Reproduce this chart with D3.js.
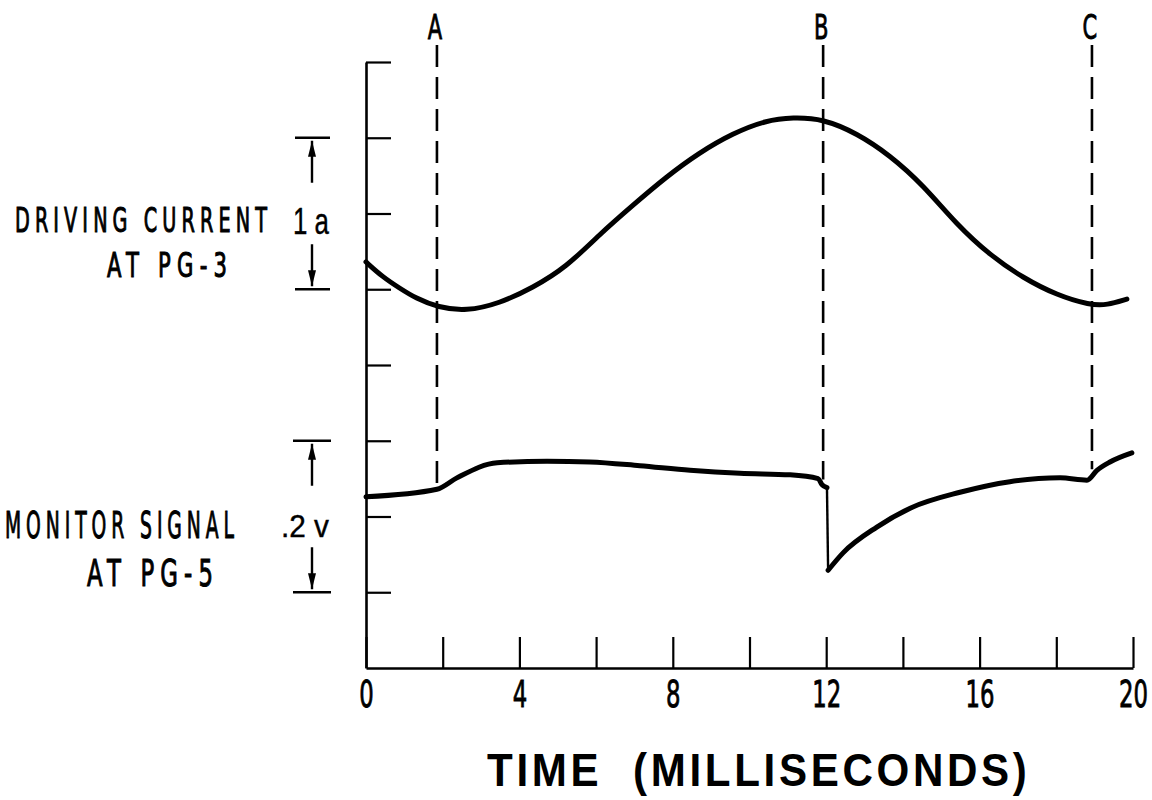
<!DOCTYPE html>
<html>
<head>
<meta charset="utf-8">
<script src="https://cdn.jsdelivr.net/npm/d3@7/dist/d3.min.js"></script>
<style>
  html, body { margin: 0; padding: 0; background: #fff; }
  svg { display: block; }
</style>
</head>
<body>
<svg id="chart" width="1152" height="800"></svg>
<script>
// Oscillogram: driving current and monitor signal vs. time.
// Vertical values are in graticule divisions (0 = bottom edge, 8 = top).

const xTicks = [0, 2, 4, 6, 8, 10, 12, 14, 16, 18, 20];
const xTickLabels = ["0", "", "4", "", "8", "", "12", "", "16", "", "20"];
const yTicks = [1, 2, 3, 4, 5, 6, 7, 8];

// Driving current at PG-3 (time ms, divisions)
const currentTime = [0, 0.44, 0.86, 1.30, 1.88, 2.61, 3.47, 4.35, 5.22, 6.08, 6.96, 7.82, 8.68, 9.57, 10.43, 11.13, 11.92, 12.80, 13.66, 14.52, 15.41, 16.27, 17.13, 18.02, 18.88, 19.32, 19.84];
const currentDiv  = [5.36, 5.16, 5.02, 4.88, 4.76, 4.71, 4.81, 5.02, 5.29, 5.72, 6.11, 6.48, 6.80, 7.06, 7.23, 7.27, 7.25, 7.06, 6.77, 6.38, 5.85, 5.45, 5.15, 4.92, 4.79, 4.79, 4.87];

// Monitor signal at PG-5 (time ms, divisions); the fast drop sits between 12.02 and 12.05 ms
const monitorTime = [0, 1.85, 2.37, 3.42, 4.72, 5.84, 7.14, 8.45, 9.75, 11.06, 11.79, 11.89, 12.02, 12.05, 12.44, 13.32, 14.19, 15.49, 16.79, 18.10, 18.80, 19.06, 19.40, 19.97];
const monitorDiv  = [2.26, 2.36, 2.51, 2.71, 2.73, 2.72, 2.67, 2.61, 2.57, 2.55, 2.50, 2.42, 2.38, 1.29, 1.52, 1.86, 2.11, 2.32, 2.46, 2.51, 2.48, 2.61, 2.72, 2.84];
const dropIndex = 12;

// Event markers
const markerLabels = ["A", "B", "C"];
const markerTimes = [1.85, 11.92, 18.93];

const LETTER = "'DejaVu Sans', 'Liberation Sans', sans-serif";
const WIDE = "'Liberation Sans', 'DejaVu Sans', sans-serif";

const svg = d3.select("#chart");
const x = d3.scaleLinear().domain([0, 20]).range([366, 1133]);
const y = d3.scaleLinear().domain([0, 8]).range([668, 62]);

// Axes
const xAxis = d3.axisBottom(x)
  .tickValues(xTicks)
  .tickSize(-31)
  .tickSizeOuter(0)
  .tickPadding(12)
  .tickFormat((d, i) => xTickLabels[i]);

const gx = svg.append("g").attr("transform", `translate(0,${y(0)})`).call(xAxis);
gx.select(".domain").attr("stroke", "#000").attr("stroke-width", 2.6);
gx.selectAll(".tick line").attr("stroke", "#000").attr("stroke-width", 2.2);
gx.selectAll(".tick text")
  .attr("fill", "#000")
  .attr("stroke", "#000")
  .attr("stroke-width", 0.9)
  .attr("transform", "scale(0.6,1)")
  .style("font-family", LETTER)
  .style("font-size", "38px");

const yAxis = d3.axisRight(y)
  .tickValues(yTicks)
  .tickSize(25)
  .tickSizeOuter(0)
  .tickFormat("");
const gy = svg.append("g").attr("transform", `translate(${x(0)},0)`).call(yAxis);
gy.select(".domain").attr("stroke", "#000").attr("stroke-width", 2.6);
gy.selectAll(".tick line").attr("stroke", "#000").attr("stroke-width", 2.2);

// Interpolated monitor value at a given time
function monitorAt(t) {
  const i = Math.max(1, Math.min(monitorTime.length - 1, d3.bisectRight(monitorTime, t)));
  const t0 = monitorTime[i - 1], t1 = monitorTime[i];
  const f = (t - t0) / (t1 - t0);
  return monitorDiv[i - 1] + f * (monitorDiv[i] - monitorDiv[i - 1]);
}

// Dashed event markers
markerTimes.forEach((t, i) => {
  svg.append("line")
    .attr("x1", x(t)).attr("x2", x(t))
    .attr("y1", 45).attr("y2", y(monitorAt(t)) - 6)
    .attr("stroke", "#000")
    .attr("stroke-width", 2.6)
    .attr("stroke-dasharray", "22,10");
  svg.append("text")
    .attr("transform", `translate(${x(t) - 2},39) scale(0.62,1)`)
    .attr("text-anchor", "middle")
    .attr("stroke", "#000")
    .attr("stroke-width", 0.9)
    .style("font-family", LETTER)
    .style("font-size", "34px")
    .text(markerLabels[i]);
});

// Traces
const smooth = d3.line().curve(d3.curveBasis);
const mono = d3.line().curve(d3.curveMonotoneX);
const currentPts = currentTime.map((t, i) => [x(t), y(currentDiv[i])]);
const monitorPts = monitorTime.map((t, i) => [x(t), y(monitorDiv[i])]);

svg.append("path")
  .attr("d", smooth(currentPts))
  .attr("fill", "none").attr("stroke", "#000").attr("stroke-width", 5)
  .attr("stroke-linejoin", "round").attr("stroke-linecap", "round");

// Monitor trace: slow parts drawn heavy, fast drop drawn thin
[monitorPts.slice(0, dropIndex + 1), monitorPts.slice(dropIndex + 1)].forEach(seg => {
  svg.append("path")
    .attr("d", mono(seg))
    .attr("fill", "none").attr("stroke", "#000").attr("stroke-width", 5)
    .attr("stroke-linejoin", "round").attr("stroke-linecap", "round");
});
svg.append("path")
  .attr("d", d3.line()(monitorPts.slice(dropIndex, dropIndex + 2)))
  .attr("fill", "none").attr("stroke", "#000").attr("stroke-width", 2.4);

// Scale bars with arrows (each spans two divisions)
const defs = svg.append("defs");
defs.append("marker")
  .attr("id", "arrowHead")
  .attr("viewBox", "0 0 20 10")
  .attr("refX", 20).attr("refY", 5)
  .attr("markerWidth", 18).attr("markerHeight", 8)
  .attr("markerUnits", "userSpaceOnUse")
  .attr("orient", "auto")
  .append("path")
  .attr("d", "M0,0 L20,5 L0,10 Z")
  .attr("fill", "#000");

function scaleBar(topDiv, botDiv, xc, x0, x1) {
  const yt = y(topDiv), yb = y(botDiv);
  svg.append("line").attr("x1", x0).attr("x2", x1).attr("y1", yt).attr("y2", yt)
    .attr("stroke", "#000").attr("stroke-width", 2.6);
  svg.append("line").attr("x1", x0).attr("x2", x1).attr("y1", yb).attr("y2", yb)
    .attr("stroke", "#000").attr("stroke-width", 2.6);
  svg.append("line").attr("x1", xc).attr("x2", xc).attr("y1", yt + 45).attr("y2", yt + 3)
    .attr("stroke", "#000").attr("stroke-width", 2.4).attr("marker-end", "url(#arrowHead)");
  svg.append("line").attr("x1", xc).attr("x2", xc).attr("y1", yb - 45).attr("y2", yb - 3)
    .attr("stroke", "#000").attr("stroke-width", 2.4).attr("marker-end", "url(#arrowHead)");
}
scaleBar(7, 5, 312, 295, 330);
scaleBar(3, 1, 312, 293, 331);

// Lettering squeezed horizontally to a given width
function label(txt, x0, yb, size, len, spacing, opts = {}) {
  const t = svg.append("text")
    .attr("x", 0).attr("y", 0)
    .attr("fill", "#000")
    .attr("stroke", "#000")
    .attr("stroke-width", opts.stroke == null ? 1.1 : opts.stroke)
    .style("font-family", opts.family || LETTER)
    .style("font-size", size + "px")
    .style("font-weight", opts.weight || "normal")
    .style("letter-spacing", spacing + "px")
    .style("white-space", "pre")
    .text(txt);
  const w = t.node().getComputedTextLength() - spacing;
  t.attr("transform", `translate(${x0},${yb}) scale(${len / w},1)`);
}
label("DRIVING CURRENT", 15, 232, 34, 252, 9);
label("AT PG-3", 107, 277, 34, 120, 10);
label("1 a", 293, 234, 36, 36, 0, { family: WIDE, stroke: 0.4 });
label("MONITOR SIGNAL", 5, 538, 38, 229, 10);
label("AT PG-5", 87, 586, 37, 126, 10);
label(".2 v", 281, 537, 32, 48, 0, { family: WIDE, stroke: 0.4 });

// Axis title
label("TIME  (MILLISECONDS)", 487, 786, 46, 540, 4, { family: WIDE, weight: "bold", stroke: 0 });
</script>
</body>
</html>
